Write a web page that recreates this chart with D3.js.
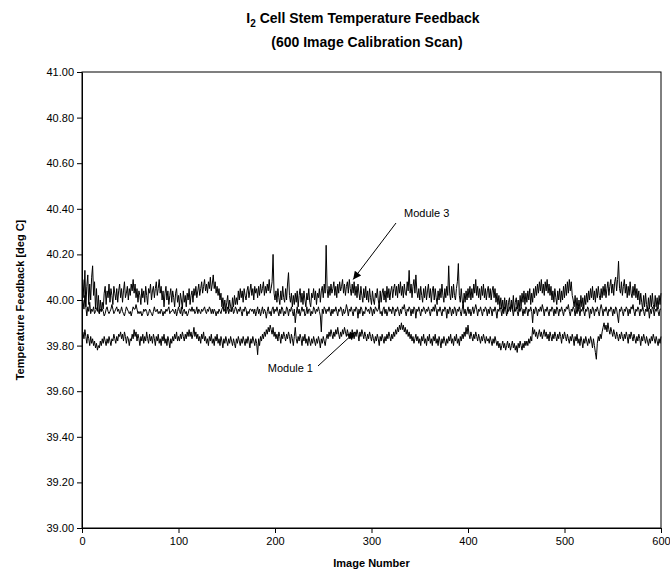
<!DOCTYPE html>
<html><head><meta charset="utf-8">
<script src="https://cdn.jsdelivr.net/npm/d3@7/dist/d3.min.js"></script>
<style>body{margin:0;background:#fff;}svg{display:block;font-family:"Liberation Sans",Arial,sans-serif;}</style>
</head><body>
<svg id="chart" width="670" height="576"></svg>
<script>
const xTicks = [0,100,200,300,400,500,600];
const yTicks = [39.00,39.20,39.40,39.60,39.80,40.00,40.20,40.40,40.60,40.80,41.00];
const seriesNames = ["Module 1","Module 2","Module 3"];

const module3 = [
40.09,40.01,40.13,39.97,40.06,40.11,39.98,40.07,40.00,40.10,40.15,40.02,40.08,39.96,40.05,39.95,40.02,39.94,40.00,39.95,
39.99,39.96,40.03,40.06,39.98,40.04,40.01,40.07,39.99,40.05,40.02,39.98,40.06,40.03,40.00,40.05,39.99,40.04,40.07,40.01,
40.05,39.99,40.04,40.08,40.01,40.03,40.06,40.00,40.05,40.02,40.07,40.04,40.09,40.03,40.07,40.01,40.05,39.99,40.04,40.02,
39.98,40.05,40.01,40.04,39.99,40.06,40.02,39.98,40.05,40.03,40.07,40.00,40.04,40.06,40.01,40.05,40.08,40.02,40.05,40.09,
40.03,40.06,40.00,40.04,39.97,40.03,40.06,40.00,40.04,39.98,40.02,40.05,39.99,40.04,40.01,39.97,40.03,40.05,39.99,40.02,
39.97,40.03,40.00,39.96,40.04,39.99,40.02,39.97,40.03,40.00,40.05,39.98,40.02,40.04,39.99,40.05,40.02,40.06,40.01,40.04,
40.07,40.02,40.05,40.08,40.03,40.06,40.09,40.04,40.07,40.03,40.08,40.05,40.10,40.04,40.07,40.11,40.05,40.08,40.03,40.06,
40.02,40.05,40.00,40.03,39.97,40.01,39.96,40.00,39.95,39.99,40.02,39.96,40.00,39.97,39.95,40.01,39.97,40.02,39.98,40.01,
39.98,40.04,40.00,40.05,40.01,40.04,39.99,40.05,40.02,40.00,40.04,40.06,40.01,40.04,40.07,40.02,40.05,40.00,40.06,40.03,
40.05,40.01,40.06,40.02,40.07,40.03,40.05,40.08,40.02,40.06,40.03,40.07,40.04,40.09,40.03,40.05,40.08,40.20,40.03,40.00,
40.04,39.99,40.05,40.01,39.98,40.04,40.00,40.06,40.01,39.99,40.05,40.00,40.07,40.12,40.02,39.99,40.03,39.97,40.02,39.98,
40.03,39.99,40.04,39.97,40.02,40.05,39.99,40.03,39.98,40.04,40.00,39.97,40.03,40.00,40.05,39.99,39.97,40.03,40.01,40.05,
40.00,40.04,39.98,40.03,40.01,40.05,39.99,40.04,40.06,40.01,40.07,40.03,40.24,40.05,40.01,40.06,40.02,40.07,40.03,40.05,
40.08,40.02,40.06,40.01,40.07,40.03,40.08,40.04,40.06,40.09,40.03,40.07,40.02,40.06,40.08,40.03,40.09,40.05,40.02,40.07,
40.03,40.08,40.02,40.06,40.01,40.07,40.03,40.00,40.06,40.02,39.99,40.05,40.01,40.06,40.00,40.04,39.99,40.05,40.01,39.98,
40.04,40.00,39.98,40.03,40.01,40.05,40.00,39.97,40.04,39.99,40.03,40.05,40.00,40.04,39.99,40.06,40.01,40.05,40.00,40.04,
40.06,40.01,40.05,40.07,40.02,40.06,40.01,40.07,40.03,40.08,40.02,40.06,40.01,40.07,40.03,40.02,40.08,40.04,40.13,40.03,
40.07,40.01,40.06,40.09,40.03,40.11,40.04,40.01,40.05,40.00,40.06,40.02,39.99,40.05,40.01,40.06,40.00,40.04,40.07,40.01,
40.05,39.99,40.04,40.06,40.00,40.05,40.01,39.98,40.04,40.00,40.05,40.01,40.07,40.02,39.99,40.05,40.01,40.06,40.02,40.15,
40.03,40.00,40.06,40.01,40.07,40.02,40.00,40.05,40.08,40.16,40.02,39.99,40.05,40.00,39.97,40.03,39.99,40.04,40.00,40.05,
40.01,40.06,40.00,40.05,40.01,40.07,40.03,40.09,40.02,40.06,40.01,40.05,40.00,40.06,40.02,40.07,40.01,40.05,40.00,40.04,
40.06,40.01,40.05,40.00,40.04,40.06,40.01,40.05,39.99,40.03,39.98,40.02,39.97,40.01,39.96,40.00,39.95,40.01,39.96,40.00,
39.94,39.99,40.01,39.95,40.00,39.96,40.02,39.95,39.99,40.01,39.96,40.00,39.95,40.02,39.97,40.03,39.99,40.04,39.98,40.03,
39.99,40.04,40.00,40.05,39.98,40.03,39.99,40.05,40.01,40.06,40.02,40.07,40.03,40.08,40.04,40.09,40.03,40.07,40.02,40.08,
40.04,40.09,40.03,40.07,40.02,40.06,40.00,40.04,39.99,40.05,40.01,39.98,40.04,40.00,40.05,39.99,40.04,40.00,40.06,40.01,
40.07,40.02,40.08,40.03,40.09,40.04,40.08,40.02,40.00,39.97,40.02,39.96,40.01,39.95,40.00,39.96,40.02,39.97,40.01,39.96,
40.02,39.98,40.03,39.99,40.04,40.00,40.05,40.01,40.06,40.00,40.04,39.99,40.05,40.01,40.06,40.02,40.00,40.05,40.01,40.06,
40.02,40.07,40.01,40.05,40.08,40.02,40.06,40.09,40.03,40.07,40.02,40.08,40.10,40.04,40.09,40.17,40.05,40.03,40.08,40.02,
40.06,40.09,40.03,40.07,40.01,40.06,40.02,40.08,40.03,40.01,40.06,40.02,40.07,40.01,40.05,40.00,40.04,39.98,40.03,39.99,
39.96,40.02,39.97,40.03,39.98,39.95,40.01,39.96,40.02,39.97,40.03,39.98,39.96,40.02,39.97,40.01,39.96,40.02,39.98,40.03
];

const module2 = [
40.00,39.96,40.02,39.97,39.93,39.97,39.95,39.99,39.94,39.96,39.95,39.97,39.94,39.95,39.96,39.97,39.95,39.94,39.96,39.95,
39.96,39.95,39.93,39.94,39.96,39.97,39.95,39.94,39.95,39.96,39.98,39.96,39.94,39.95,39.96,39.97,39.95,39.96,39.94,39.95,
39.97,39.95,39.94,39.93,39.95,39.97,39.96,39.95,39.94,39.95,39.93,39.95,39.97,39.96,39.96,39.98,39.96,39.94,39.95,39.94,
39.95,39.93,39.94,39.96,39.95,39.96,39.95,39.93,39.94,39.96,39.95,39.94,39.93,39.95,39.97,39.95,39.95,39.96,39.94,39.95,
39.94,39.96,39.95,39.93,39.95,39.94,39.96,39.95,39.96,39.97,39.94,39.95,39.95,39.96,39.95,39.94,39.96,39.93,39.95,39.97,
39.95,39.94,39.97,39.93,39.95,39.96,39.94,39.95,39.93,39.94,39.96,39.96,39.95,39.97,39.95,39.96,39.94,39.95,39.97,39.94,
39.96,39.95,39.94,39.96,39.95,39.96,39.97,39.95,39.94,39.96,39.95,39.97,39.96,39.94,39.96,39.94,39.96,39.95,39.93,39.95,
39.94,39.96,39.95,39.94,39.96,39.97,39.95,39.96,39.94,39.95,39.97,39.94,39.96,39.95,39.95,39.97,39.94,39.95,39.97,39.96,
39.94,39.96,39.95,39.97,39.95,39.93,39.96,39.95,39.97,39.96,39.93,39.95,39.94,39.96,39.96,39.95,39.96,39.94,39.96,39.93,
39.95,39.97,39.94,39.96,39.93,39.95,39.97,39.94,39.96,39.95,39.92,39.95,39.97,39.94,39.95,39.93,39.96,39.97,39.94,39.96,
39.95,39.97,39.95,39.93,39.96,39.94,39.97,39.96,39.93,39.95,39.94,39.97,39.96,39.93,39.96,39.95,39.97,39.95,39.93,39.96,
39.90,39.94,39.97,39.94,39.96,39.93,39.95,39.97,39.95,39.96,39.93,39.94,39.97,39.94,39.96,39.96,39.93,39.95,39.94,39.97,
39.96,39.94,39.96,39.95,39.97,39.95,39.93,39.86,39.96,39.94,39.97,39.96,39.94,39.96,39.95,39.97,39.95,39.93,39.96,39.94,
39.96,39.95,39.97,39.95,39.93,39.96,39.95,39.97,39.96,39.93,39.96,39.94,39.95,39.98,39.96,39.93,39.96,39.95,39.97,39.95,
39.93,39.96,39.95,39.97,39.96,39.92,39.96,39.94,39.97,39.96,39.93,39.95,39.94,39.97,39.96,39.95,39.96,39.94,39.97,39.96,
39.93,39.96,39.94,39.97,39.96,39.95,39.96,39.98,39.94,39.95,39.93,39.96,39.97,39.94,39.96,39.93,39.95,39.97,39.95,39.96,
39.94,39.97,39.96,39.93,39.96,39.95,39.97,39.95,39.93,39.96,39.94,39.97,39.96,39.98,39.95,39.93,39.96,39.95,39.97,39.96,
39.93,39.96,39.94,39.97,39.96,39.92,39.96,39.95,39.97,39.95,39.93,39.96,39.95,39.97,39.96,39.94,39.96,39.95,39.97,39.95,
39.93,39.96,39.95,39.97,39.95,39.98,39.96,39.93,39.96,39.95,39.97,39.95,39.93,39.96,39.95,39.97,39.96,39.92,39.96,39.94,
39.97,39.96,39.93,39.96,39.94,39.97,39.96,39.93,39.96,39.95,39.97,39.95,39.93,39.96,39.98,39.94,39.96,39.93,39.95,39.97,
39.94,39.96,39.93,39.95,39.97,39.94,39.96,39.98,39.96,39.93,39.96,39.95,39.97,39.95,39.93,39.96,39.95,39.97,39.96,39.93,
39.96,39.94,39.97,39.96,39.93,39.96,39.95,39.97,39.95,39.92,39.96,39.95,39.97,39.96,39.93,39.96,39.94,39.97,39.96,39.93,
39.96,39.95,39.97,39.95,39.98,39.96,39.93,39.96,39.95,39.97,39.95,39.93,39.96,39.95,39.97,39.96,39.93,39.96,39.94,39.97,
39.96,39.93,39.96,39.95,39.97,39.95,39.90,39.96,39.94,39.97,39.96,39.93,39.96,39.95,39.97,39.95,39.98,39.96,39.93,39.96,
39.95,39.97,39.95,39.93,39.96,39.95,39.97,39.96,39.93,39.96,39.94,39.97,39.96,39.93,39.96,39.95,39.97,39.95,39.93,39.96,
39.95,39.97,39.96,39.98,39.95,39.93,39.96,39.95,39.97,39.96,39.93,39.96,39.94,39.97,39.96,39.93,39.96,39.95,39.97,39.95,
39.93,39.96,39.95,39.97,39.96,39.92,39.96,39.94,39.97,39.96,39.93,39.96,39.95,39.97,39.95,39.93,39.96,39.98,39.96,39.93,
39.96,39.95,39.97,39.95,39.93,39.96,39.95,39.97,39.96,39.93,39.96,39.94,39.97,39.96,39.93,39.90,39.96,39.95,39.97,39.95,
39.93,39.96,39.95,39.97,39.96,39.93,39.96,39.94,39.97,39.96,39.98,39.95,39.93,39.96,39.95,39.97,39.96,39.93,39.96,39.95,
39.97,39.95,39.93,39.96,39.95,39.97,39.96,39.92,39.96,39.94,39.97,39.96,39.93,39.96,39.95,39.97,39.95,39.93,39.96,39.96
];

const module1 = [
39.86,39.83,39.87,39.84,39.81,39.85,39.83,39.80,39.84,39.81,39.83,39.80,39.82,39.79,39.81,39.78,39.80,39.79,39.82,39.80,
39.83,39.81,39.84,39.82,39.80,39.83,39.81,39.84,39.82,39.80,39.83,39.82,39.85,39.83,39.81,39.84,39.82,39.85,39.84,39.86,
39.83,39.85,39.82,39.86,39.84,39.81,39.84,39.83,39.80,39.83,39.82,39.85,39.83,39.87,39.84,39.86,39.82,39.85,39.83,39.80,
39.84,39.82,39.85,39.81,39.84,39.82,39.86,39.83,39.81,39.85,39.82,39.84,39.81,39.85,39.83,39.80,39.84,39.82,39.85,39.81,
39.83,39.80,39.84,39.82,39.85,39.81,39.83,39.80,39.84,39.82,39.79,39.83,39.81,39.84,39.82,39.85,39.83,39.86,39.82,39.84,
39.82,39.85,39.83,39.86,39.84,39.82,39.85,39.83,39.86,39.84,39.87,39.84,39.86,39.83,39.85,39.88,39.84,39.86,39.83,39.85,
39.82,39.84,39.81,39.85,39.83,39.86,39.82,39.84,39.81,39.83,39.80,39.84,39.82,39.85,39.81,39.83,39.80,39.84,39.82,39.85,
39.81,39.83,39.80,39.84,39.82,39.79,39.83,39.81,39.84,39.82,39.80,39.83,39.81,39.84,39.82,39.80,39.83,39.81,39.79,39.83,
39.81,39.84,39.82,39.80,39.83,39.81,39.84,39.82,39.80,39.83,39.81,39.84,39.82,39.79,39.83,39.81,39.84,39.82,39.80,39.83,
39.81,39.76,39.83,39.80,39.84,39.82,39.85,39.83,39.86,39.84,39.87,39.85,39.88,39.86,39.89,39.87,39.85,39.88,39.84,39.86,
39.83,39.85,39.82,39.86,39.84,39.81,39.85,39.83,39.86,39.84,39.82,39.85,39.83,39.86,39.84,39.81,39.85,39.83,39.80,39.84,
39.88,39.83,39.81,39.84,39.82,39.85,39.83,39.80,39.84,39.82,39.85,39.81,39.83,39.80,39.84,39.82,39.80,39.83,39.81,39.84,
39.82,39.80,39.83,39.81,39.84,39.82,39.79,39.83,39.81,39.84,39.82,39.80,39.83,39.85,39.83,39.86,39.84,39.87,39.85,39.83,
39.86,39.84,39.87,39.85,39.88,39.85,39.83,39.86,39.84,39.87,39.85,39.88,39.86,39.84,39.87,39.85,39.83,39.86,39.84,39.87,
39.85,39.83,39.86,39.84,39.87,39.85,39.82,39.86,39.84,39.87,39.85,39.83,39.86,39.84,39.82,39.85,39.83,39.86,39.84,39.82,
39.85,39.83,39.81,39.84,39.82,39.85,39.83,39.80,39.84,39.82,39.85,39.83,39.81,39.84,39.82,39.85,39.83,39.86,39.84,39.82,
39.85,39.83,39.86,39.84,39.87,39.85,39.88,39.86,39.89,39.87,39.90,39.87,39.89,39.86,39.88,39.85,39.87,39.84,39.86,39.83,
39.85,39.82,39.84,39.81,39.83,39.85,39.82,39.84,39.81,39.83,39.80,39.84,39.82,39.85,39.81,39.83,39.80,39.84,39.82,39.85,
39.81,39.83,39.80,39.84,39.82,39.85,39.81,39.83,39.80,39.84,39.82,39.79,39.83,39.81,39.84,39.82,39.80,39.83,39.81,39.84,
39.82,39.85,39.81,39.83,39.80,39.84,39.82,39.85,39.81,39.83,39.80,39.84,39.82,39.85,39.83,39.86,39.84,39.88,39.85,39.89,
39.85,39.83,39.86,39.84,39.82,39.85,39.83,39.86,39.84,39.82,39.85,39.83,39.81,39.84,39.82,39.85,39.83,39.81,39.84,39.82,
39.83,39.81,39.84,39.82,39.80,39.83,39.81,39.84,39.82,39.80,39.82,39.79,39.81,39.78,39.80,39.82,39.79,39.81,39.78,39.80,
39.82,39.79,39.81,39.78,39.80,39.82,39.79,39.81,39.78,39.80,39.77,39.81,39.79,39.82,39.80,39.78,39.81,39.79,39.82,39.80,
39.82,39.80,39.83,39.81,39.84,39.82,39.88,39.85,39.87,39.84,39.86,39.83,39.85,39.87,39.84,39.86,39.83,39.85,39.87,39.84,
39.86,39.83,39.85,39.82,39.86,39.84,39.82,39.85,39.83,39.86,39.84,39.82,39.85,39.83,39.86,39.84,39.81,39.85,39.83,39.86,
39.84,39.82,39.85,39.83,39.81,39.84,39.82,39.85,39.83,39.80,39.84,39.82,39.85,39.81,39.83,39.80,39.84,39.82,39.79,39.83,
39.81,39.84,39.82,39.80,39.83,39.81,39.84,39.82,39.79,39.83,39.80,39.77,39.74,39.81,39.84,39.82,39.85,39.83,39.86,39.88,
39.90,39.87,39.89,39.86,39.90,39.87,39.85,39.88,39.86,39.84,39.87,39.85,39.83,39.86,39.84,39.82,39.85,39.83,39.86,39.84,
39.82,39.85,39.83,39.86,39.84,39.81,39.85,39.83,39.86,39.84,39.82,39.85,39.83,39.81,39.84,39.82,39.85,39.83,39.80,39.84,
39.82,39.85,39.83,39.81,39.84,39.82,39.80,39.83,39.81,39.84,39.82,39.85,39.83,39.81,39.84,39.82,39.80,39.83,39.81,39.84
];

const series = [module1, module2, module3];

const svg = d3.select("#chart");
const L = 82, R = 661, T = 72, B = 528;
const x = d3.scaleLinear().domain([0, 600]).range([L, R]);
const y = d3.scaleLinear().domain([39, 41]).range([B, T]);

// frame
svg.append("rect").attr("x", L).attr("y", T).attr("width", R - L).attr("height", B - T)
  .attr("fill", "none").attr("stroke", "#000").attr("stroke-width", 1);

// axes
const yAxis = svg.append("g").attr("transform", `translate(${L},0)`)
  .call(d3.axisLeft(y).tickValues(yTicks).tickFormat(d3.format(".2f")).tickSize(5).tickSizeOuter(0).tickPadding(3));
const xAxis = svg.append("g").attr("transform", `translate(0,${B})`)
  .call(d3.axisBottom(x).tickValues(xTicks).tickFormat(d3.format("d")).tickSize(5).tickSizeOuter(0).tickPadding(4));
[yAxis, xAxis].forEach(g => {
  g.selectAll("text").attr("font-size", 11).attr("fill", "#000").attr("font-family", '"Liberation Sans", Arial, sans-serif');
  g.selectAll("line,path").attr("stroke", "#000");
});

// lines
const line = d3.line().x((d, i) => x(i + 1)).y(d => y(d));
svg.append("g").selectAll("path").data(series).join("path")
  .attr("d", line).attr("fill", "none").attr("stroke", "#000").attr("stroke-width", 1)
  .attr("stroke-linejoin", "miter");

// title
const title = svg.append("text").attr("x", 363).attr("y", 23).attr("text-anchor", "middle")
  .attr("font-size", 14).attr("font-weight", "bold");
title.append("tspan").text("I");
title.append("tspan").attr("font-size", 10).attr("dy", 4).text("2");
title.append("tspan").attr("dy", -4).text(" Cell Stem Temperature Feedback");
svg.append("text").attr("x", 367).attr("y", 47).attr("text-anchor", "middle")
  .attr("font-size", 14).attr("font-weight", "bold").text("(600 Image Calibration Scan)");

// axis titles
svg.append("text").attr("transform", `translate(24,${(T + B) / 2}) rotate(-90)`)
  .attr("text-anchor", "middle").attr("font-size", 11).attr("font-weight", "bold")
  .text("Temperature Feedback [deg C]");
svg.append("text").attr("x", (L + R) / 2).attr("y", 567).attr("text-anchor", "middle")
  .attr("font-size", 11).attr("font-weight", "bold").text("Image Number");

// arrows
const defs = svg.append("defs");
defs.append("marker").attr("id", "ah").attr("viewBox", "0 0 10 10").attr("refX", 10).attr("refY", 5)
  .attr("markerWidth", 11).attr("markerHeight", 8).attr("markerUnits", "userSpaceOnUse").attr("orient", "auto")
  .append("path").attr("d", "M0,0 L10,5 L0,10 Z").attr("fill", "#000");

const annotations = [
  {label: seriesNames[2], tx: 404, ty: 217, anchor: "start", x1: 396, y1: 223, xi: 281, yv: 40.09},
  {label: seriesNames[0], tx: 313, ty: 372, anchor: "end", x1: 318, y1: 366, xi: 283, yv: 39.86}
];
annotations.forEach(a => {
  svg.append("text").attr("x", a.tx).attr("y", a.ty).attr("text-anchor", a.anchor).attr("font-size", 11).text(a.label);
  svg.append("line").attr("x1", a.x1).attr("y1", a.y1).attr("x2", x(a.xi)).attr("y2", y(a.yv))
    .attr("stroke", "#000").attr("stroke-width", 1).attr("marker-end", "url(#ah)");
});
</script>
</body></html>
